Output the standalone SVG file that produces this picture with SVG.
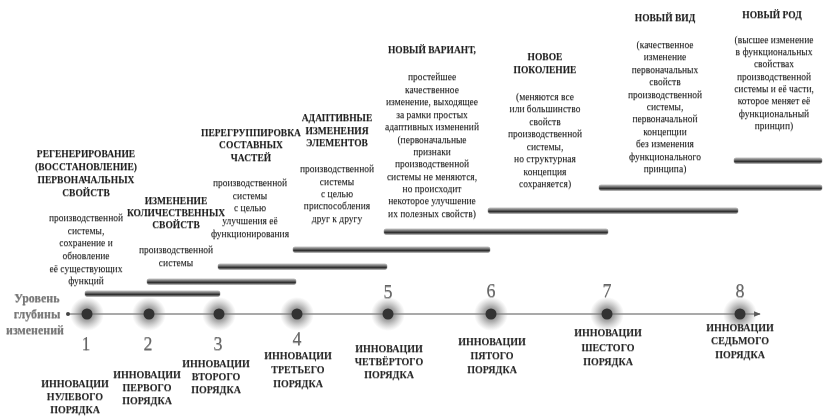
<svg xmlns="http://www.w3.org/2000/svg" width="823" height="416" viewBox="0 0 823 416">
<style>
text{font-family:"Liberation Serif","Times New Roman",serif;text-anchor:middle;filter:url(#soft);}
.h{font-weight:bold;font-size:9.5px;fill:#222;}
.b{font-size:9.5px;fill:#222;}
.l{font-weight:bold;font-size:10px;fill:#2a2a2a;}
.n{font-size:18px;fill:#666;}
.lv{font-weight:bold;font-size:12px;fill:#777;}
.bar{fill:url(#barg);stroke:#888;stroke-width:0.5;}
</style>
<defs>
<filter id="soft" x="-10%" y="-30%" width="120%" height="160%">
<feGaussianBlur in="SourceAlpha" stdDeviation="0.7" result="b"/>
<feOffset in="b" dx="0.4" dy="0.6" result="o"/>
<feFlood flood-color="#555" flood-opacity="0.45"/>
<feComposite in2="o" operator="in" result="s"/>
<feMerge><feMergeNode in="s"/><feMergeNode in="SourceGraphic"/></feMerge>
</filter>
<linearGradient id="barg" x1="0" y1="0" x2="0" y2="1">
<stop offset="0" stop-color="#c8c8c8"/>
<stop offset="0.35" stop-color="#6a6a6a"/>
<stop offset="0.65" stop-color="#2e2e2e"/>
<stop offset="1" stop-color="#9a9a9a"/>
</linearGradient>
<radialGradient id="glow">
<stop offset="0" stop-color="#555" stop-opacity="0.9"/>
<stop offset="0.45" stop-color="#777" stop-opacity="0.6"/>
<stop offset="1" stop-color="#999" stop-opacity="0"/>
</radialGradient>
<marker id="arr" viewBox="0 0 10 10" refX="9" refY="5" markerWidth="6" markerHeight="6" orient="auto">
<path d="M0,1 L10,5 L0,9 Z" fill="#555"/>
</marker>
</defs>
<rect width="823" height="416" fill="#fff"/>

<g id="connectors">
<line x1="68" y1="314" x2="760" y2="314" stroke="#555" stroke-width="1.2" marker-end="url(#arr)"/>
<circle cx="68" cy="314" r="2" fill="#444"/>
</g>

<g id="bars">
<rect class="bar" x="85" y="291" width="135" height="5.5" rx="2"/>
<rect class="bar" x="147" y="279" width="149" height="5.5" rx="2"/>
<rect class="bar" x="218" y="264" width="169" height="5.5" rx="2"/>
<rect class="bar" x="293" y="247" width="197" height="5.5" rx="2"/>
<rect class="bar" x="384" y="229" width="224" height="5.5" rx="2"/>
<rect class="bar" x="488" y="208" width="250" height="5.5" rx="2"/>
<rect class="bar" x="599" y="185" width="223" height="5.5" rx="2"/>
<rect class="bar" x="734" y="158" width="88" height="5.5" rx="2"/>
</g>

<g id="level">
<text class="lv" x="37" y="302">Уровень</text>
<text class="lv" x="37" y="318">глубины</text>
<text class="lv" x="35" y="334">изменений</text>
</g>

<g id="node1">
<circle cx="87" cy="314" r="17" fill="url(#glow)"/><circle cx="87" cy="314" r="5.5" fill="#333"/>
<text class="n" x="86" y="350">1</text>
<text class="l" x="75" y="387">ИННОВАЦИИ</text><text class="l" x="75" y="400">НУЛЕВОГО</text><text class="l" x="75" y="413">ПОРЯДКА</text>
</g>
<g id="node2">
<circle cx="149" cy="314" r="17" fill="url(#glow)"/><circle cx="149" cy="314" r="5.5" fill="#333"/>
<text class="n" x="148" y="350">2</text>
<text class="l" x="147" y="378">ИННОВАЦИИ</text><text class="l" x="147" y="391">ПЕРВОГО</text><text class="l" x="147" y="404">ПОРЯДКА</text>
</g>
<g id="node3">
<circle cx="219" cy="314" r="17" fill="url(#glow)"/><circle cx="219" cy="314" r="5.5" fill="#333"/>
<text class="n" x="218" y="350">3</text>
<text class="l" x="216" y="367">ИННОВАЦИИ</text><text class="l" x="216" y="380">ВТОРОГО</text><text class="l" x="216" y="393">ПОРЯДКА</text>
</g>
<g id="node4">
<circle cx="297" cy="314" r="17" fill="url(#glow)"/><circle cx="297" cy="314" r="5.5" fill="#333"/>
<text class="n" x="297" y="345">4</text>
<text class="l" x="298" y="359">ИННОВАЦИИ</text><text class="l" x="298" y="373">ТРЕТЬЕГО</text><text class="l" x="298" y="387">ПОРЯДКА</text>
</g>
<g id="node5">
<circle cx="388" cy="314" r="17" fill="url(#glow)"/><circle cx="388" cy="314" r="5.5" fill="#333"/>
<text class="n" x="388" y="298">5</text>
<text class="l" x="389" y="352">ИННОВАЦИИ</text><text class="l" x="389" y="365">ЧЕТВЁРТОГО</text><text class="l" x="389" y="378">ПОРЯДКА</text>
</g>
<g id="node6">
<circle cx="491" cy="314" r="17" fill="url(#glow)"/><circle cx="491" cy="314" r="5.5" fill="#333"/>
<text class="n" x="491" y="297">6</text>
<text class="l" x="492" y="345">ИННОВАЦИИ</text><text class="l" x="492" y="359">ПЯТОГО</text><text class="l" x="492" y="373">ПОРЯДКА</text>
</g>
<g id="node7">
<circle cx="607" cy="314" r="17" fill="url(#glow)"/><circle cx="607" cy="314" r="5.5" fill="#333"/>
<text class="n" x="607" y="297">7</text>
<text class="l" x="608" y="336">ИННОВАЦИИ</text><text class="l" x="608" y="351">ШЕСТОГО</text><text class="l" x="608" y="365">ПОРЯДКА</text>
</g>
<g id="node8">
<circle cx="740" cy="314" r="17" fill="url(#glow)"/><circle cx="740" cy="314" r="5.5" fill="#333"/>
<text class="n" x="740" y="297">8</text>
<text class="l" x="740" y="331">ИННОВАЦИИ</text><text class="l" x="740" y="344">СЕДЬМОГО</text><text class="l" x="740" y="358">ПОРЯДКА</text>
</g>

<g id="desc1">
<text class="h" x="86" y="157">РЕГЕНЕРИРОВАНИЕ</text>
<text class="h" x="86" y="170">(ВОССТАНОВЛЕНИЕ)</text>
<text class="h" x="86" y="183">ПЕРВОНАЧАЛЬНЫХ</text>
<text class="h" x="86" y="196">СВОЙСТВ</text>
<text class="b" x="86" y="221">производственной</text>
<text class="b" x="86" y="234">системы,</text>
<text class="b" x="86" y="246">сохранение и</text>
<text class="b" x="86" y="259">обновление</text>
<text class="b" x="86" y="272">её существующих</text>
<text class="b" x="86" y="284">функций</text>
</g>
<g id="desc2">
<text class="h" x="176" y="204">ИЗМЕНЕНИЕ</text>
<text class="h" x="176" y="216">КОЛИЧЕСТВЕННЫХ</text>
<text class="h" x="176" y="228">СВОЙСТВ</text>
<text class="b" x="176" y="253">производственной</text>
<text class="b" x="176" y="266">системы</text>
</g>
<g id="desc3">
<text class="h" x="251" y="136">ПЕРЕГРУППИРОВКА</text>
<text class="h" x="251" y="148">СОСТАВНЫХ</text>
<text class="h" x="251" y="161">ЧАСТЕЙ</text>
<text class="b" x="250" y="186">производственной</text>
<text class="b" x="250" y="199">системы</text>
<text class="b" x="250" y="211">с целью</text>
<text class="b" x="250" y="224">улучшения её</text>
<text class="b" x="250" y="237">функционирования</text>
</g>
<g id="desc4">
<text class="h" x="337" y="121">АДАПТИВНЫЕ</text>
<text class="h" x="337" y="134">ИЗМЕНЕНИЯ</text>
<text class="h" x="337" y="146">ЭЛЕМЕНТОВ</text>
<text class="b" x="337" y="172">производственной</text>
<text class="b" x="337" y="185">системы</text>
<text class="b" x="337" y="197">с целью</text>
<text class="b" x="337" y="209">приспособления</text>
<text class="b" x="337" y="222">друг к другу</text>
</g>
<g id="desc5">
<text class="h" x="432" y="53">НОВЫЙ ВАРИАНТ,</text>
<text class="b" x="432" y="80">простейшее</text>
<text class="b" x="432" y="93">качественное</text>
<text class="b" x="432" y="105">изменение, выходящее</text>
<text class="b" x="432" y="118">за рамки простых</text>
<text class="b" x="432" y="130">адаптивных изменений</text>
<text class="b" x="432" y="143">(первоначальные</text>
<text class="b" x="432" y="155">признаки</text>
<text class="b" x="432" y="167">производственной</text>
<text class="b" x="432" y="180">системы не меняются,</text>
<text class="b" x="432" y="192">но происходит</text>
<text class="b" x="432" y="204">некоторое улучшение</text>
<text class="b" x="432" y="217">их полезных свойств)</text>
</g>
<g id="desc6">
<text class="h" x="545" y="60">НОВОЕ</text>
<text class="h" x="545" y="73">ПОКОЛЕНИЕ</text>
<text class="b" x="545" y="100">(меняются все</text>
<text class="b" x="545" y="112">или большинство</text>
<text class="b" x="545" y="125">свойств</text>
<text class="b" x="545" y="137">производственной</text>
<text class="b" x="545" y="150">системы,</text>
<text class="b" x="545" y="162">но структурная</text>
<text class="b" x="545" y="175">концепция</text>
<text class="b" x="545" y="187">сохраняется)</text>
</g>
<g id="desc7">
<text class="h" x="665" y="21">НОВЫЙ ВИД</text>
<text class="b" x="665" y="48">(качественное</text>
<text class="b" x="665" y="60">изменение</text>
<text class="b" x="665" y="73">первоначальных</text>
<text class="b" x="665" y="85">свойств</text>
<text class="b" x="665" y="98">производственной</text>
<text class="b" x="665" y="110">системы,</text>
<text class="b" x="665" y="122">первоначальной</text>
<text class="b" x="665" y="135">концепции</text>
<text class="b" x="665" y="147">без изменения</text>
<text class="b" x="665" y="160">функционального</text>
<text class="b" x="665" y="172">принципа)</text>
</g>
<g id="desc8">
<text class="h" x="772" y="18">НОВЫЙ РОД</text>
<text class="b" x="774" y="43">(высшее изменение</text>
<text class="b" x="774" y="55">в функциональных</text>
<text class="b" x="774" y="67">свойствах</text>
<text class="b" x="774" y="80">производственной</text>
<text class="b" x="774" y="92">системы и её части,</text>
<text class="b" x="774" y="104">которое меняет её</text>
<text class="b" x="774" y="117">функциональный</text>
<text class="b" x="774" y="129">принцип)</text>
</g>
</svg>
